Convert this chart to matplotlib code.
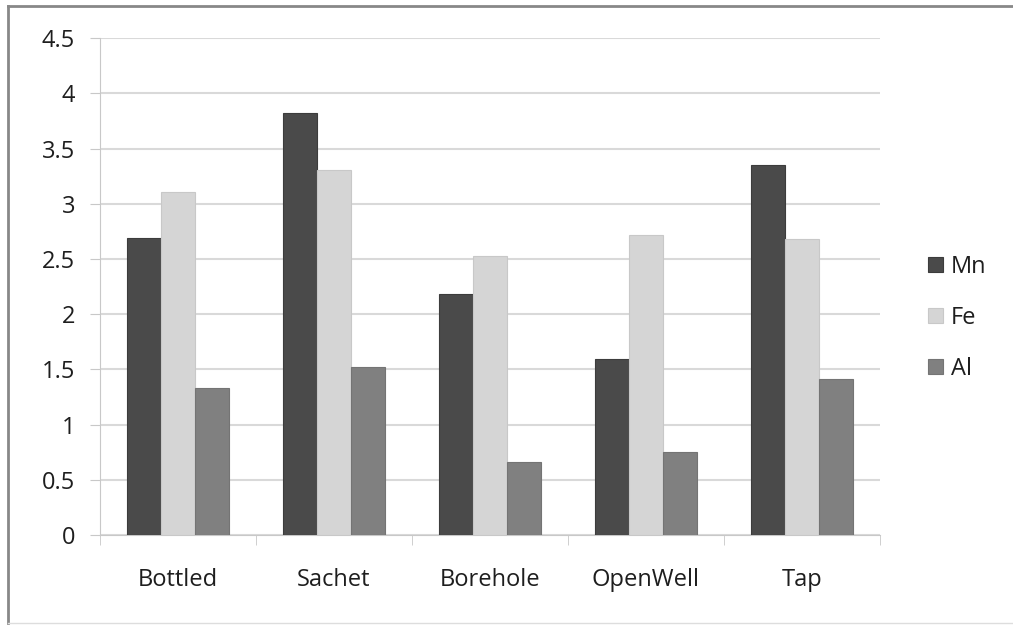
import numpy as np
import matplotlib.pyplot as plt
from matplotlib.lines import Line2D

plt.rcParams['font.family'] = ['Open Sans', 'DejaVu Sans']

# Источники воды
sources = ['Bottled', 'Sachet', 'Borehole', 'OpenWell', 'Tap']

# Концентрации металлов
mn = [2.69, 3.82, 2.18, 1.59, 3.35]
fe = [3.11, 3.31, 2.53, 2.72, 2.68]
al = [1.33, 1.52, 0.66, 0.75, 1.41]

fig = plt.figure(figsize=(10.13, 6.25), dpi=100)
ax = fig.add_axes([0.0987, 0.144, 0.77, 0.795])

x = np.arange(len(sources))
w = 0.22

ax.bar(x - w, mn, w, color='#4a4a4a', edgecolor='#3c3c3c', linewidth=0.8, label='Mn', zorder=3)
ax.bar(x, fe, w, color='#d5d5d5', edgecolor='#c8c8c8', linewidth=0.8, label='Fe', zorder=3)
ax.bar(x + w, al, w, color='#808080', edgecolor='#747474', linewidth=0.8, label='Al', zorder=3)

ax.set_xlim(-0.5, len(sources) - 0.5)
ax.set_ylim(0, 4.5)
ax.set_yticks(np.arange(0, 4.51, 0.5))
ax.set_yticklabels(['0', '0.5', '1', '1.5', '2', '2.5', '3', '3.5', '4', '4.5'])
ax.set_xticks(x)
ax.set_xticklabels(sources)
ax.set_xticks(np.arange(-0.5, len(sources), 1), minor=True)

# Сетка и оси
ax.grid(axis='y', color='#d9d9d9', linewidth=1.5, zorder=0)
for s in ['top', 'right']:
    ax.spines[s].set_visible(False)
ax.spines['left'].set_color('#c8c8c8')
ax.spines['bottom'].set_color('#c8c8c8')
ax.tick_params(axis='y', length=7, color='#c8c8c8', labelsize=17, pad=11, labelcolor='#1e1e1e')
ax.tick_params(axis='x', which='major', length=0, labelsize=17, pad=24, labelcolor='#1e1e1e')
ax.tick_params(axis='x', which='minor', length=7, color='#c8c8c8')

ax.legend(loc='center left', bbox_to_anchor=(1.05, 0.437), frameon=False,
          fontsize=17, labelcolor='#1e1e1e', handlelength=0.6, handleheight=0.6,
          labelspacing=1.15, handletextpad=0.35, borderaxespad=0)

# Рамка вокруг рисунка
fig.add_artist(Line2D([8 / 1013, 8 / 1013], [1 - 623 / 625, 1 - 6 / 625], transform=fig.transFigure, color='#888888', linewidth=2))
fig.add_artist(Line2D([8 / 1013, 1], [1 - 6 / 625, 1 - 6 / 625], transform=fig.transFigure, color='#888888', linewidth=2))
fig.add_artist(Line2D([8 / 1013, 1], [1 - 623 / 625, 1 - 623 / 625], transform=fig.transFigure, color='#dddddd', linewidth=1))

fig.savefig('out.png', dpi=100)
